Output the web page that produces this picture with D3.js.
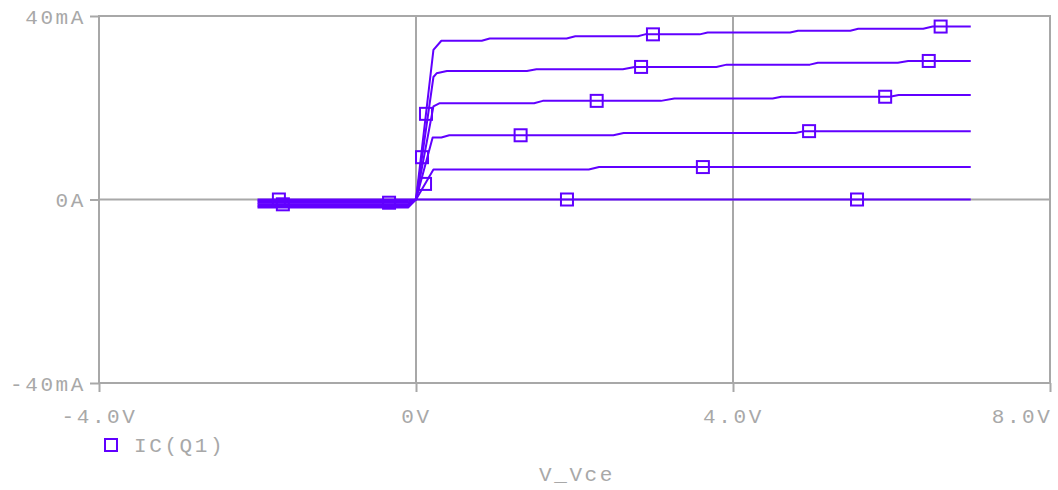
<!DOCTYPE html>
<html>
<head>
<meta charset="utf-8">
<script src="https://cdn.jsdelivr.net/npm/d3@7"></script>
<style>
	html, body { margin: 0; padding: 0; background: #fff; }
	svg text { font-family: "Liberation Mono", "DejaVu Sans Mono", monospace; fill: #a8a8a8; }
</style>
</head>
<body>
<div id="chart"></div>
<script>
// Ic vs Vce sweep, one trace per base current step: [Vce (V), Ic (mA)]
const curve0 = [[-2, 0], [7, 0]];
const curve1 = [[-2, -0.35], [-0.1, -0.35], [0, 0], [0.22, 6.56], [2.18, 6.56], [2.31, 7.07], [7, 7.07]];
const curve2 = [[-2, -0.7], [-0.1, -0.7], [0, 0], [0.21, 13.5], [0.32, 13.5], [0.42, 14.0], [2.49, 14.0],
	[2.62, 14.5], [4.79, 14.5], [4.9, 14.9], [7, 14.9]];
const curve3 = [[-2, -1.05], [-0.1, -1.05], [0, 0], [0.22, 20.3], [0.3, 21.0], [1.49, 21.0], [1.6, 21.5],
	[3.09, 21.5], [3.26, 22.0], [4.5, 22.0], [4.61, 22.4], [5.98, 22.4], [6.09, 22.8], [7, 22.8]];
const curve4 = [[-2, -1.4], [-0.1, -1.4], [0, 0], [0.22, 26.7], [0.26, 27.5], [0.39, 28.0], [1.4, 28.0],
	[1.52, 28.4], [2.61, 28.4], [2.76, 28.9], [3.79, 28.9], [3.92, 29.4], [4.97, 29.4], [5.07, 29.8],
	[6.08, 29.8], [6.21, 30.2], [7, 30.2]];
const curve5 = [[-2, -1.75], [-0.1, -1.75], [0, 0], [0.22, 32.6], [0.32, 34.6], [0.83, 34.6], [0.93, 35.1],
	[1.9, 35.1], [2.01, 35.6], [2.8, 35.6], [2.89, 36.0], [3.58, 36.0], [3.68, 36.4], [4.72, 36.4],
	[4.82, 36.8], [5.48, 36.8], [5.58, 37.2], [6.4, 37.2], [6.52, 37.7], [7, 37.7]];

// Vce positions where the square markers sit on each trace
const markers0 = [-1.73, 1.905, 5.565];
const markers1 = [0.114, 3.62];
const markers2 = [-0.34, 1.32, 4.96];
const markers3 = [-1.68, 2.28, 5.92];
const markers4 = [0.076, 2.84, 6.47];
const markers5 = [0.126, 2.99, 6.62];

const xTicks = [-4, 0, 4, 8];
const xTickLabels = ["-4.0V", "0V", "4.0V", "8.0V"];
const yTicks = [-40, 0, 40];
const yTickLabels = ["-40mA", "0A", "40mA"];
const xGrid = [0, 4];
const yGrid = [0];
const legendLabel = "IC(Q1)";
const xTitle = "V_Vce";

const curves = [curve0, curve1, curve2, curve3, curve4, curve5];
const markerSets = [markers0, markers1, markers2, markers3, markers4, markers5];

const width = 1058;
const height = 490;
const margin = { top: 16, right: 8, bottom: 107, left: 99 };
const traceColor = "#6100ff";
const gray = "#a8a8a8";

const x = d3.scaleLinear().domain([-4, 8]).range([margin.left, width - margin.right]);
const y = d3.scaleLinear().domain([-40, 40]).range([height - margin.bottom, margin.top]);

const svg = d3
	.select("#chart")
	.append("svg")
	.attr("width", width)
	.attr("height", height);

// Grid lines
svg
	.append("g")
	.selectAll("line")
	.data(xGrid)
	.join("line")
	.attr("x1", (d) => x(d))
	.attr("x2", (d) => x(d))
	.attr("y1", y(40))
	.attr("y2", y(-40))
	.attr("stroke", gray)
	.attr("stroke-width", 2);

svg
	.append("g")
	.selectAll("line")
	.data(yGrid)
	.join("line")
	.attr("x1", x(-4))
	.attr("x2", x(8))
	.attr("y1", (d) => y(d))
	.attr("y2", (d) => y(d))
	.attr("stroke", gray)
	.attr("stroke-width", 2);

// Frame
svg
	.append("rect")
	.attr("x", x(-4))
	.attr("y", y(40))
	.attr("width", x(8) - x(-4))
	.attr("height", y(-40) - y(40))
	.attr("fill", "none")
	.attr("stroke", gray)
	.attr("stroke-width", 2);

// Axes
const xAxis = svg
	.append("g")
	.attr("transform", `translate(0,${y(-40)})`)
	.call(
		d3
			.axisBottom(x)
			.tickValues(xTicks)
			.tickSize(9)
			.tickPadding(12)
			.tickFormat((d, i) => xTickLabels[i])
	);

const yAxis = svg
	.append("g")
	.attr("transform", `translate(${x(-4)},0)`)
	.call(
		d3
			.axisLeft(y)
			.tickValues(yTicks)
			.tickSize(9)
			.tickPadding(4)
			.tickFormat((d, i) => yTickLabels[i])
	);

[xAxis, yAxis].forEach((ax) => {
	ax.select(".domain").remove();
	ax.selectAll(".tick line").attr("stroke", gray).attr("stroke-width", 2);
	ax.selectAll(".tick text")
		.attr("fill", gray)
		.style("font-size", "21px")
		.style("letter-spacing", "2.6px");
});

xAxis.selectAll(".tick text").attr("dy", "0.9em");
// last x label sits inside the right edge
xAxis
	.selectAll(".tick text")
	.filter((d) => d === 8)
	.attr("text-anchor", "end")
	.attr("x", 2);
yAxis.selectAll(".tick text").attr("dy", "0.35em");

// Traces
const line = d3
	.line()
	.x((d) => x(d[0]))
	.y((d) => y(d[1]));

svg
	.append("g")
	.attr("fill", "none")
	.attr("stroke", traceColor)
	.attr("stroke-width", 2)
	.attr("stroke-linejoin", "round")
	.selectAll("path")
	.data(curves)
	.join("path")
	.attr("d", line);

// Markers, placed on each trace by interpolating its points
const icAt = (curve, v) => {
	const i = d3.bisector((p) => p[0]).right(curve, v);
	if (i <= 0) return curve[0][1];
	if (i >= curve.length) return curve[curve.length - 1][1];
	const a = curve[i - 1];
	const b = curve[i];
	return a[1] + ((v - a[0]) / (b[0] - a[0])) * (b[1] - a[1]);
};

const markerPoints = markerSets.flatMap((set, k) => set.map((v) => [v, icAt(curves[k], v)]));

svg
	.append("g")
	.selectAll("rect")
	.data(markerPoints)
	.join("rect")
	.attr("x", (d) => x(d[0]) - 6)
	.attr("y", (d) => y(d[1]) - 6)
	.attr("width", 12)
	.attr("height", 12)
	.attr("fill", "none")
	.attr("stroke", traceColor)
	.attr("stroke-width", 2);

// Legend
const legend = svg.append("g").attr("transform", "translate(111,445)");
legend
	.append("rect")
	.attr("x", -6)
	.attr("y", -6)
	.attr("width", 12)
	.attr("height", 12)
	.attr("fill", "none")
	.attr("stroke", traceColor)
	.attr("stroke-width", 2);
legend
	.append("text")
	.attr("x", 23)
	.attr("dy", "0.35em")
	.style("font-size", "21px")
	.style("letter-spacing", "2.6px")
	.text(legendLabel);

// X axis title
svg
	.append("text")
	.attr("x", 577)
	.attr("y", 474)
	.attr("dy", "0.35em")
	.attr("text-anchor", "middle")
	.style("font-size", "21px")
	.style("letter-spacing", "2.6px")
	.text(xTitle);
</script>
</body>
</html>
